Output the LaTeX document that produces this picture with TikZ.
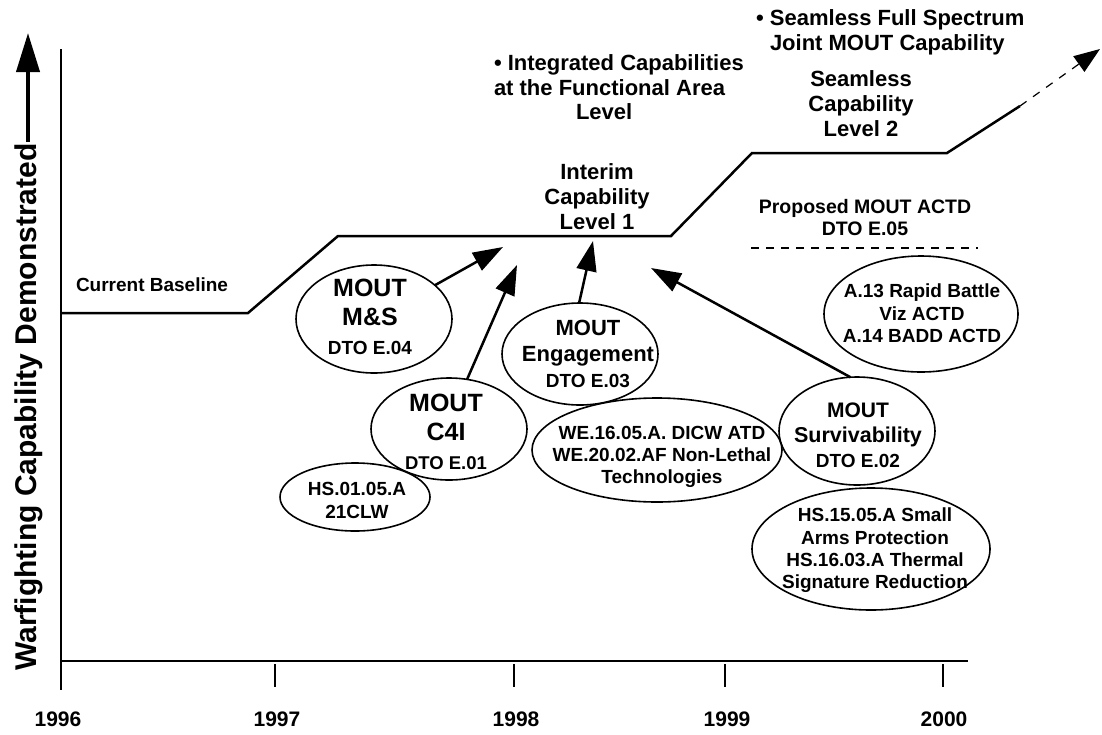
\documentclass[tikz,border=0pt]{standalone}
\usepackage{fontspec}
\setmainfont{Liberation Sans}
\usetikzlibrary{arrows.meta,shapes.geometric}
\newcommand\fsz[2]{\fontsize{#1pt}{#2pt}\selectfont}
\begin{document}
\begin{tikzpicture}[x=1pt,y=-1pt,
  every node/.style={inner sep=0pt,outer sep=0pt},
  ellbox/.style 2 args={ellipse,draw,line width=1.6pt,minimum width=#1,minimum height=#2},
  axisline/.style={line width=2pt},
  tickmark/.style={line width=1.4pt},
  levelline/.style={line width=2.5pt,line join=miter},
  feed/.style={line width=2.5pt,-{Triangle[length=30pt,width=20pt]}},
  yearlbl/.style={font=\bfseries\fsz{21}{25},anchor=base},
]
\fill[white] (0,0) rectangle (1102,734);
\useasboundingbox (0,0) rectangle (1102,734);

% axes
\coordinate (yTop) at (61,49);
\coordinate (yBot) at (61,690);
\coordinate (xLeft) at (61,661);
\coordinate (xRight) at (968,661);
\draw[axisline] (yTop) -- (yBot);
\draw[line width=2.5pt] (xLeft) -- (xRight);
\foreach \tx/\nm in {275/a,514/b,725/c,943/d}{
  \coordinate (tk\nm1) at (\tx,664);
  \coordinate (tk\nm2) at (\tx,687);
  \draw[tickmark] (tk\nm1) -- (tk\nm2);
}

% year labels
\node[yearlbl] (y96) at (58,726.5) {1996};
\node[yearlbl] (y97) at (277,726.5) {1997};
\node[yearlbl] (y98) at (516,726.5) {1998};
\node[yearlbl] (y99) at (727,726.5) {1999};
\node[yearlbl] (y00) at (944,726.5) {2000};

% vertical axis title with its arrow
\node[font=\bfseries\fsz{30}{36},rotate=90] (ylab) at (29,407) {Warfighting Capability Demonstrated};
\coordinate (yArrowTail) at (28,142);
\coordinate (yArrowTip) at (28,33);
\draw[line width=4pt,-{Triangle[length=39pt,width=23pt]}] (yArrowTail) -- (yArrowTip);

% capability level staircase
\coordinate (c0) at (61,313);
\coordinate (c1) at (248,313);
\coordinate (c2) at (338,236);
\coordinate (c3) at (671,236);
\coordinate (c4) at (752,153);
\coordinate (c5) at (947,153);
\coordinate (c6) at (1020,106);
\coordinate (capTip) at (1100,49);
\draw[levelline] (c0) -- (c1) -- (c2) -- (c3) -- (c4) -- (c5) -- (c6);
\draw[line width=1.2pt,dash pattern=on 8pt off 8pt,-{Triangle[length=26pt,width=19pt]}] (c6) -- (capTip);

% separator under the proposed ACTD
\coordinate (sepL) at (751,248);
\coordinate (sepR) at (978,248);
\draw[line width=1.2pt,dash pattern=on 8pt off 7pt] (sepL) -- (sepR);

% level labels
\node[font=\bfseries\fsz{19}{23},anchor=base west] (base) at (76,291) {Current Baseline};
\node[font=\bfseries\fsz{22}{25},align=center,anchor=north] (lvl1) at (597,164) {Interim\\Capability\\Level 1};
\node[font=\bfseries\fsz{22}{25},align=center,anchor=north] (lvl2) at (861,71) {Seamless\\Capability\\Level 2};
\node[font=\bfseries\fsz{22}{24.5},align=left,anchor=north west] (goal1) at (494,55)
  {• Integrated Capabilities\\at the Functional Area\\\hspace*{82pt}Level};
\node[font=\bfseries\fsz{22}{25},align=left,anchor=north west] (goal2) at (770,10)
  {\llap{•\ }Seamless Full Spectrum\\Joint MOUT Capability};
\node[font=\bfseries\fsz{19.5}{22},align=center,anchor=north] (prop) at (865,199) {Proposed MOUT ACTD\\DTO E.05};

% program ellipses
\node[ellbox={156pt}{108pt}] (ms) at (374,319) {};
\node[font=\bfseries\fsz{25}{29},align=center] (msT) at (370,317) {MOUT\\M\&S\\\fsz{19}{27}DTO E.04};

\node[ellbox={156pt}{102pt}] (c4i) at (449,429) {};
\node[font=\bfseries\fsz{25}{29},align=center] (c4iT) at (446,432) {MOUT\\C4I\\\fsz{18.5}{27}DTO E.01};

\node[ellbox={156pt}{102pt}] (eng) at (580,354) {};
\node[font=\bfseries\fsz{22}{26},align=center] (engT) at (588,353.5) {MOUT\\Engagement\\\fsz{19}{21}DTO E.03};

\node[ellbox={150pt}{68pt}] (hs01) at (355,497) {};
\node[font=\bfseries\fsz{19}{23},align=center] (hs01T) at (357,500.4) {HS.01.05.A\\21CLW};

\node[ellbox={250pt}{104pt}] (we) at (657,450) {};
\node[font=\bfseries\fsz{19}{22},align=center] (weT) at (662,457) {WE.16.05.A. DICW ATD\\WE.20.02.AF Non-Lethal\\Technologies};

\node[ellbox={194pt}{116pt}] (a13) at (921,314) {};
\node[font=\bfseries\fsz{19}{22.5},align=center] (a13T) at (922,313.4) {A.13 Rapid Battle\\Viz ACTD\\A.14 BADD ACTD};

\node[ellbox={156pt}{108pt}] (sv) at (857,431) {};
\node[font=\bfseries\fsz{21}{25},align=center] (svT) at (858,435.6) {MOUT\\\fsz{21.5}{25}Survivability\\\fsz{19}{22}DTO E.02};

\node[ellbox={238pt}{122pt}] (hs15) at (871,549) {};
\node[font=\bfseries\fsz{19}{22.3},align=center] (hs15T) at (875,550.4) {HS.15.05.A Small\\Arms Protection\\HS.16.03.A Thermal\\Signature Reduction};

% contributions to interim capability
\coordinate (t1) at (503,247);
\coordinate (t2) at (517,265);
\coordinate (t3) at (593,241);
\coordinate (t4) at (651,268);
\draw[feed] (ms.29) -- (t1);
\draw[feed] (c4i.70.5) -- (t2);
\draw[feed] (eng.91) -- (t3);
\draw[feed] (sv.97.5) -- (t4);
\end{tikzpicture}
\end{document}
